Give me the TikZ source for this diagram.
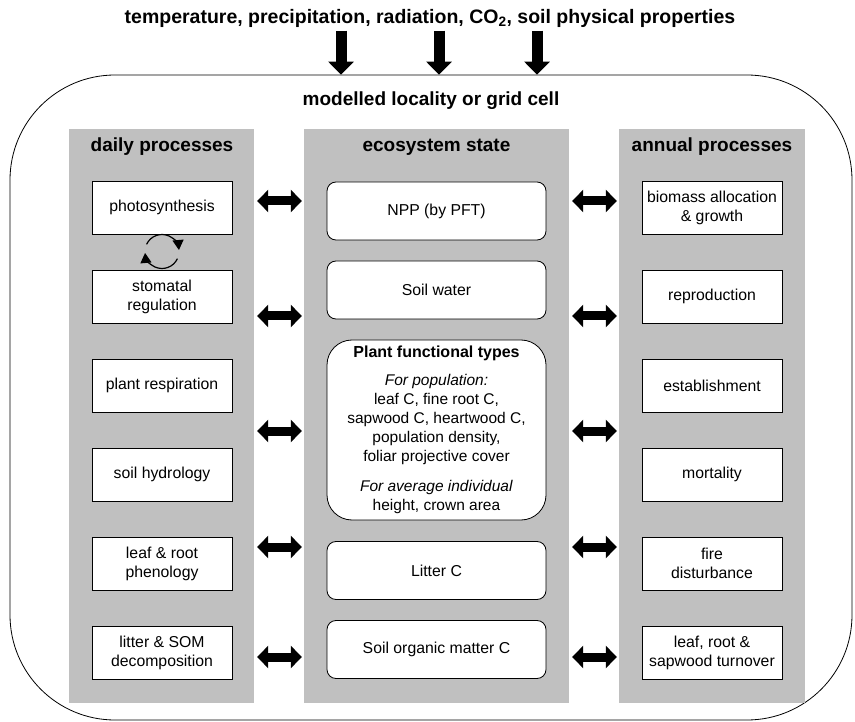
\documentclass[tikz,border=0pt]{standalone}
\usepackage{fontspec}
\setmainfont{Liberation Sans}
\usetikzlibrary{arrows.meta,positioning}

\definecolor{colgray}{RGB}{192,192,192}
\newcommand{\boxfont}{\fontsize{15.8}{19}\selectfont}
\newcommand{\headfont}{\fontsize{19}{22}\selectfont\bfseries}

\tikzset{
  headtext/.style={font=\headfont},
  column/.style={fill=colgray, minimum height=574pt, inner sep=0pt},
  procbox/.style={draw=black, line width=0.8pt, fill=white, align=center,
    minimum width=140pt, minimum height=53pt, inner sep=0pt, font=\boxfont},
  statebox/.style={procbox, rounded corners=9pt, minimum width=219pt, minimum height=58pt},
  fatarrow/.style={line width=11pt, -{Triangle[length=13pt,width=25pt]}},
  biarrow/.style={line width=9pt, {Triangle[length=11pt,width=22pt]}-{Triangle[length=11pt,width=22pt]},
    shorten <=3pt, shorten >=2pt},
  cyclearrow/.style={line width=1.2pt, -{Triangle[length=10pt,width=11pt]}}
}

\begin{document}
\begin{tikzpicture}[x=1pt,y=-1pt]
\useasboundingbox (0,0) rectangle (855,722);

% locality and driving data
\node[draw=black, line width=0.8pt, rounded corners=105pt, minimum width=842pt, minimum height=645pt] (cell) at (431,397.5) {};
\node[headtext, font=\fontsize{19.5}{22}\selectfont\bfseries] (drivers) at (430,18) {temperature, precipitation, radiation, CO\textsubscript{2}, soil physical properties};
\foreach \x in {341,439,537}
  \draw[fatarrow] (drivers.south -| \x,0) -- (cell.north -| \x,0);
\node[headtext] (celltitle) at (431,101) {modelled locality or grid cell};

% the three columns
\node[column, minimum width=185pt] (daily) at (161.5,416) {};
\node[column, minimum width=265pt] (eco) at (436.5,416) {};
\node[column, minimum width=186pt] (annual) at (712,416) {};
\node[headtext] (dailyhead) at (162,147) {daily processes};
\node[headtext] (ecohead) at (436.5,147) {ecosystem state};
\node[headtext] (annualhead) at (712,147) {annual processes};

% daily processes
\foreach \txt [count=\i] in {photosynthesis, {stomatal\\regulation}, plant respiration,
    soil hydrology, {leaf \& root\\phenology}, {litter \& SOM\\decomposition}}
  \node[procbox] (d\i) at (162,{207.5+89*(\i-1)}) {\txt};

% annual processes
\foreach \txt [count=\i] in {{biomass allocation\\\& growth}, reproduction, establishment,
    mortality, {fire\\disturbance}, {leaf, root \&\\sapwood turnover}}
  \node[procbox] (a\i) at (712,{207.5+89*(\i-1)}) {\txt};

% ecosystem state
\node[statebox] (npp) at (436.5,211) {NPP (by PFT)};
\node[statebox] (soilw) at (436.5,290) {Soil water};
\node[statebox, rounded corners=25pt, minimum height=180pt, font=\fontsize{15.5}{19}\selectfont] (pft) at (436.5,430) {%
  \textbf{\fontsize{16}{19}\selectfont Plant functional types}\\[9pt]
  \textit{For population:}\\
  leaf C, fine root C,\\
  sapwood C, heartwood C,\\
  population density,\\
  foliar projective cover\\[11pt]
  \textit{For average individual}\\
  height, crown area};
\node[statebox] (litter) at (436.5,570.5) {Litter C};
\node[statebox] (som) at (436.5,649.5) {Soil organic matter C};

% exchanges between columns
\foreach \y in {201,316,431,547,657} {
  \draw[biarrow] (daily.east |- 0,\y) -- (eco.west |- 0,\y);
  \draw[biarrow] (eco.east |- 0,\y) -- (annual.west |- 0,\y);
}

% photosynthesis <-> stomatal regulation feedback
\coordinate (cyc) at (162,251.5);
\draw[cyclearrow] (cyc) ++(-155:17) arc[start angle=-155, end angle=-5, radius=17];
\draw[cyclearrow] (cyc) ++(25:17) arc[start angle=25, end angle=175, radius=17];

\end{tikzpicture}
\end{document}
